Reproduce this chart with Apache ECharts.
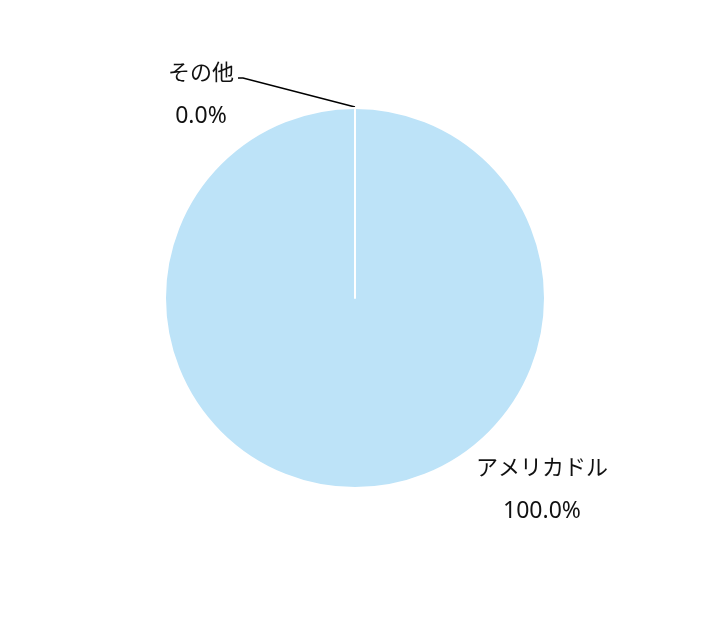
<!DOCTYPE html>
<html>
<head>
<meta charset="utf-8">
<script src="https://cdn.jsdelivr.net/npm/echarts@6/dist/echarts.min.js"></script>
<style>html,body{margin:0;padding:0;background:#fff}#c{width:708px;height:629px}</style>
</head>
<body>
<div id="c"></div>
<script>
var categories = ['アメリカドル', 'その他'];
var values = [100, 0];
var colors = ['#bde3f8', '#bde3f8'];

var chart = echarts.init(document.getElementById('c'), null, {renderer: 'canvas'});
var data = categories.map(function (name, i) {
  return {
    name: name,
    value: values[i],
    itemStyle: {color: colors[i]},
    labelLine: {show: i === 1}
  };
});
chart.setOption({
  animation: false,
  series: [{
    type: 'pie',
    center: [355, 298],
    radius: [0, 190],
    startAngle: 90,
    clockwise: true,
    avoidLabelOverlap: false,
    stillShowZeroSum: true,
    itemStyle: {borderColor: '#ffffff', borderWidth: 2},
    label: {
      show: true,
      position: 'outside',
      formatter: function (p) {
        return '{n|' + p.name + '}\n{p|' + p.percent.toFixed(1) + '%}';
      },
      rich: {
        n: {fontFamily: '"Noto Sans CJK JP", "Noto Sans", sans-serif', fontSize: 22, color: '#111', lineHeight: 45, align: 'center'},
        p: {fontFamily: '"Noto Sans", "Noto Sans CJK JP", sans-serif', fontSize: 23, color: '#111', lineHeight: 45, align: 'center'}
      }
    },
    labelLine: {show: true, lineStyle: {color: '#000', width: 1.5}},
    labelLayout: function (params) {
      var pts = params.labelLinePoints;
      if (!pts) return {};
      var p0 = pts[0];
      if (params.dataIndex === 0) {
        return {x: p0[0] + 187, y: p0[1] + 1, align: 'center', verticalAlign: 'middle'};
      }
      return {
        x: p0[0] - 154, y: p0[1] - 14, align: 'center', verticalAlign: 'middle',
        labelLinePoints: [[p0[0], p0[1] - 1], [p0[0] - 112, p0[1] - 30], [p0[0] - 117, p0[1] - 30]]
      };
    },
    data: data
  }]
});
</script>
</body>
</html>
